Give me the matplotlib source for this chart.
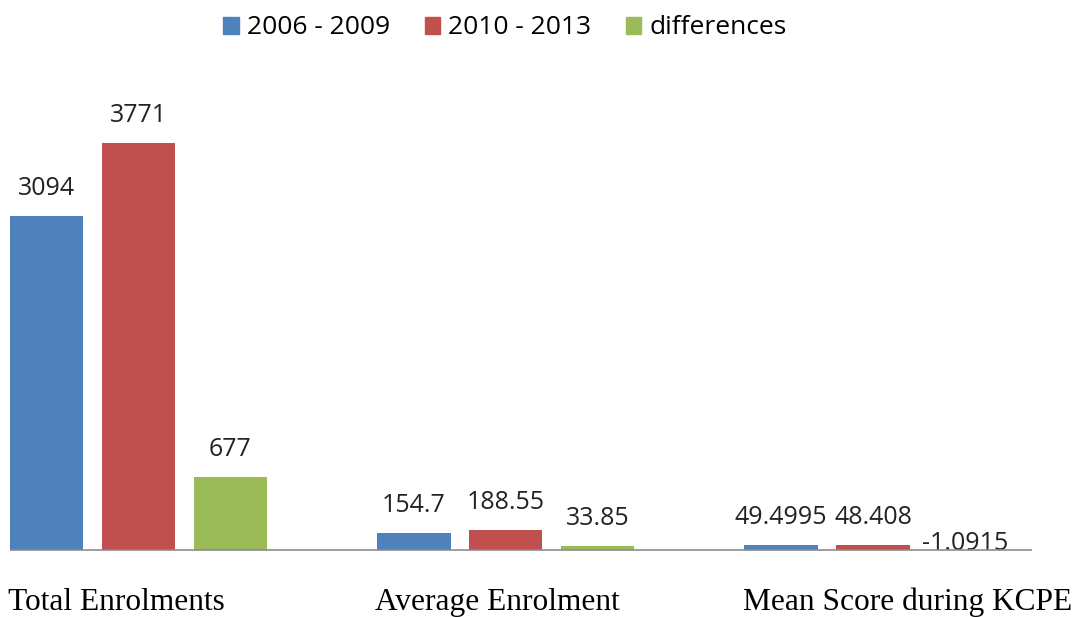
import matplotlib
matplotlib.use("Agg")
import numpy as np
import matplotlib.pyplot as plt
from matplotlib.patches import Patch
from matplotlib.transforms import blended_transform_factory

categories = ["Total Enrolments", "Average Enrolment", "Mean Score during KCPE"]
series_names = ["2006 - 2009", "2010 - 2013", "differences"]
vals_0609 = [3094, 154.7, 49.4995]
vals_1013 = [3771, 188.55, 48.408]
vals_diff = [677, 33.85, -1.0915]
labels_0609 = ["3094", "154.7", "49.4995"]
labels_1013 = ["3771", "188.55", "48.408"]
labels_diff = ["677", "33.85", "-1.0915"]

colors = ["#4F81BD", "#C0504D", "#9BBB59"]
sans = ["Open Sans", "DejaVu Sans"]
serif = ["Liberation Serif", "DejaVu Serif"]

W, H = 1078, 617
fig = plt.figure(figsize=(W / 100, H / 100), dpi=100)
ax = fig.add_axes([10 / W, (H - 551.6) / H, 1022 / W, (551.6 - 60) / H])

x = np.arange(len(categories))
width = 0.2
step = 0.25
allvals = [vals_0609, vals_1013, vals_diff]
alllabels = [labels_0609, labels_1013, labels_diff]
for i in range(3):
    pos = x + (i - 1) * step
    ax.bar(pos, allvals[i], width, color=colors[i], zorder=2)
    for px, v, lab in zip(pos, allvals[i], alllabels[i]):
        if v >= 0:
            ax.annotate(lab, (px, v), xytext=(0, 15), textcoords="offset points",
                        ha="center", va="baseline", fontsize=18, family=sans, color="#222222")
        else:
            ax.annotate(lab, (px, 0), xytext=(0, 0), textcoords="offset points",
                        ha="center", va="baseline", fontsize=18, family=sans, color="#222222")

ax.axhline(0, color="#8C8C8C", lw=1.2, zorder=3)
ax.set_xlim(-0.35, 2.433)
ax.set_ylim(-15, 3771 * (551.6 - 60) / 408)
ax.axis("off")

trans = blended_transform_factory(ax.transData, fig.transFigure)
for cx, cat in zip(x, categories):
    fig.text(cx - 0.355, (H - 610) / H, cat, transform=trans, ha="left", va="baseline",
             fontsize=22.6, family=serif, color="black")

handles = [Patch(color=c) for c in colors]
fig.legend(handles, series_names, loc="center", bbox_to_anchor=(505 / W, (H - 28) / H),
           ncol=3, frameon=False, prop={"family": sans, "size": 19},
           handlelength=0.6, handleheight=0.6, handletextpad=0.3, columnspacing=1.3)

fig.savefig("out.png", dpi=100)
